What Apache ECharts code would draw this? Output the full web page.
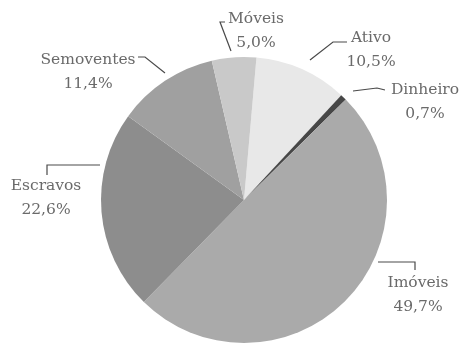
<!DOCTYPE html>
<html>
<head>
<meta charset="utf-8">
<script src="https://cdn.jsdelivr.net/npm/echarts@6/dist/echarts.min.js"></script>
<style>
html,body{margin:0;padding:0;background:#fff;}
#chart{width:465px;height:345px;}
</style>
</head>
<body>
<div id="chart"></div>
<script>
// Data (clockwise from top)
var categories = ['Ativo', 'Dinheiro', 'Imóveis', 'Escravos', 'Semoventes', 'Móveis'];
var values = [10.5, 0.7, 49.7, 22.6, 11.4, 5.0];

// Styles / layout (kept separate from data)
var colors = ['#e8e8e8', '#474747', '#aaaaaa', '#8d8d8d', '#a0a0a0', '#c9c9c9'];
var labelLayouts = [
  {x: 371, y: 50, line: [[310, 60], [333, 42], [347, 42]]},
  {x: 425, y: 102, line: [[353, 91], [377, 88], [385, 90]]},
  {x: 418, y: 295, line: [[378, 262], [415, 262], [415, 270]]},
  {x: 46, y: 198, line: [[100, 165], [47, 165], [47, 175]]},
  {x: 88, y: 72, line: [[165, 73], [145, 57], [138, 57]]},
  {x: 256, y: 31, line: [[231, 51], [220, 22], [225, 22]]}
];

var chart = echarts.init(document.getElementById('chart'), null, {renderer: 'canvas'});
chart.setOption({
  animation: false,
  backgroundColor: '#ffffff',
  series: [{
    type: 'pie',
    center: [244, 200],
    radius: [0, 143],
    startAngle: 85,
    clockwise: true,
    avoidLabelOverlap: false,
    data: categories.map(function (c, i) {
      return {name: c, value: values[i], itemStyle: {color: colors[i]}};
    }),
    itemStyle: {borderWidth: 0},
    label: {
      show: true,
      position: 'outside',
      fontFamily: 'DejaVu Serif',
      fontSize: 15.5,
      lineHeight: 24,
      color: '#6a6a6a',
      align: 'center',
      formatter: function (p) {
        return p.name + '\n' + p.value.toFixed(1).replace('.', ',') + '%';
      }
    },
    labelLine: {
      show: true,
      lineStyle: {color: '#4a4a4a', width: 1.2}
    },
    labelLayout: function (params) {
      var L = labelLayouts[params.dataIndex];
      return {
        x: L.x,
        y: L.y,
        align: 'center',
        verticalAlign: 'middle',
        labelLinePoints: L.line
      };
    }
  }]
});
</script>
</body>
</html>
